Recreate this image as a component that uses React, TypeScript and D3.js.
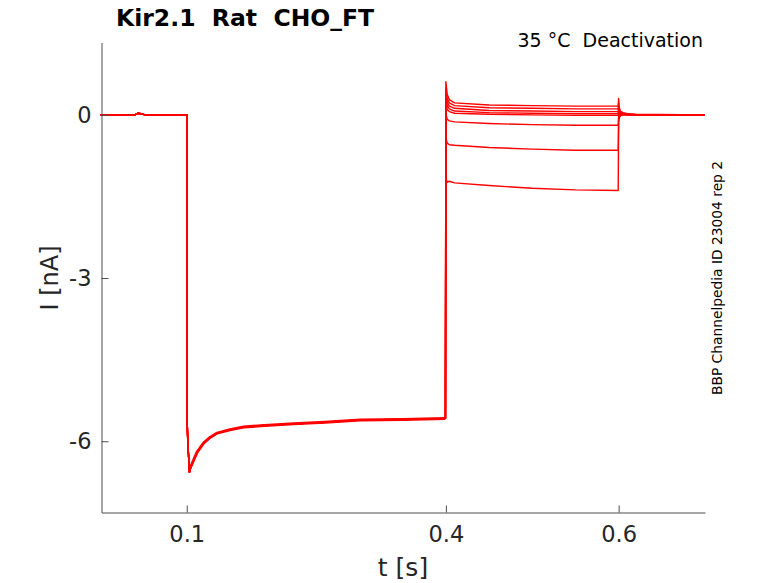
import React, { useEffect, useRef } from 'react';
import * as d3 from 'd3';

// holding segment and the step to -120 mV (identical for every sweep)
const holdTimes = [
  0, 0.04, 0.043, 0.047, 0.052, 0.1003, 0.1005, 0.1012, 0.1031, 0.105, 0.1081, 0.112, 0.1197, 0.127, 0.1352,
  0.15, 0.1659, 0.19, 0.2238, 0.26, 0.3009, 0.35, 0.3995,
];
const holdCurrent = [
  0, 0, 0.03, 0.02, 0, 0, -5.65, -6.0, -6.57, -6.46, -6.34, -6.2, -6.03, -5.93, -5.85,
  -5.79, -5.74, -5.71, -5.68, -5.65, -5.61, -5.6, -5.58,
];

// deactivation step, one row per sweep
const stepTimes = [0.4, 0.4015, 0.404, 0.41, 0.45, 0.5, 0.55, 0.5995];
const stepCurrents = [
  [0.61, 0.38, 0.28, 0.22, 0.18, 0.17, 0.16, 0.16],
  [0.48, 0.3, 0.22, 0.17, 0.13, 0.12, 0.11, 0.11],
  [0.4, 0.24, 0.16, 0.12, 0.08, 0.07, 0.06, 0.06],
  [0.32, 0.17, 0.11, 0.07, 0.04, 0.03, 0.02, 0.02],
  [0.24, 0.1, 0.06, 0.03, 0.01, 0.0, -0.01, -0.01],
  [0.02, -0.08, -0.11, -0.13, -0.16, -0.18, -0.19, -0.19],
  [-0.42, -0.52, -0.55, -0.56, -0.6, -0.63, -0.65, -0.65],
  [-1.15, -1.24, -1.22, -1.25, -1.3, -1.35, -1.38, -1.39],
];

// back to holding
const tailTimes = [0.6, 0.6006, 0.602, 0.605, 0.61, 0.62, 0.7];
const tailCurrents = [
  [0.3, 0.14, 0.07, 0.04, 0.02, 0.01, 0],
  [0.22, 0.1, 0.05, 0.03, 0.015, 0.005, 0],
  [0.16, 0.07, 0.04, 0.02, 0.01, 0, 0],
  [0.1, 0.05, 0.03, 0.015, 0.01, 0, 0],
  [0.06, 0.03, 0.02, 0.01, 0, 0, 0],
  [-0.02, 0, 0.01, 0.01, 0, 0, 0],
  [-0.08, -0.03, 0, 0.005, 0, 0, 0],
  [-0.15, -0.06, -0.02, 0, 0, 0, 0],
];

const xTicks = [0.1, 0.4, 0.6];
const yTicks = [-6, -3, 0];

const W = 778;
const H = 583;
const font = 'DejaVu Sans, sans-serif';
const axisColor = '#4d4d4d';
const textColor = '#262626';

const App = () => {
  const ref = useRef<SVGSVGElement>(null);

  useEffect(() => {
    const svg = d3.select(ref.current);
    svg.selectAll('*').remove();

    const x = d3.scaleLinear().domain([0.0013, 0.7]).range([101.5, 705]);
    const y = d3.scaleLinear().domain([-7.31, 1.33]).range([512.5, 42.5]);

    const line = d3
      .line<[number, number]>()
      .x(d => x(d[0]))
      .y(d => y(d[1]));

    const hold: [number, number][] = holdTimes.map((t, i) => [t, holdCurrent[i]]);

    const traces = svg.append('g').attr('fill', 'none').attr('stroke', '#ff0000').attr('stroke-linejoin', 'round');

    stepCurrents.forEach((row, k) => {
      const pts: [number, number][] = [
        ...hold,
        ...stepTimes.map((t, i) => [t, row[i]] as [number, number]),
        ...tailTimes.map((t, i) => [t, tailCurrents[k][i]] as [number, number]),
      ];
      traces.append('path').attr('d', line(pts)).attr('stroke-width', 1.4);
    });

    // overlapping sweeps make the shared part look thicker
    traces
      .append('path')
      .attr('d', line(hold.slice(9)))
      .attr('stroke-width', 3);

    // axes
    const xAxis = svg
      .append('g')
      .attr('transform', `translate(0,${y.range()[0]})`)
      .call(d3.axisBottom(x).tickValues(xTicks).tickSize(-7).tickSizeOuter(0).tickPadding(14).tickFormat(d3.format('.1f')));
    const yAxis = svg
      .append('g')
      .attr('transform', `translate(${x.range()[0]},0)`)
      .call(d3.axisLeft(y).tickValues(yTicks).tickSize(-7).tickSizeOuter(0).tickPadding(10).tickFormat(d => String(d)));

    [xAxis, yAxis].forEach(a => {
      a.select('.domain').attr('stroke', axisColor);
      a.selectAll('.tick line').attr('stroke', axisColor);
      a.selectAll('.tick text').attr('fill', textColor).style('font-family', font).style('font-size', '22.5px');
    });

    svg
      .append('text')
      .attr('x', 403)
      .attr('y', 576)
      .attr('text-anchor', 'middle')
      .attr('fill', textColor)
      .style('font-family', font)
      .style('font-size', '25px')
      .text('t [s]');

    svg
      .append('text')
      .attr('transform', 'translate(58,278) rotate(-90)')
      .attr('text-anchor', 'middle')
      .attr('fill', textColor)
      .style('font-family', font)
      .style('font-size', '24px')
      .text('I [nA]');

    svg
      .append('text')
      .attr('x', 116)
      .attr('y', 26)
      .attr('fill', '#000')
      .style('font-family', font)
      .style('font-size', '23.5px')
      .style('font-weight', 'bold')
      .style('white-space', 'pre')
      .text('Kir2.1  Rat  CHO_FT');

    svg
      .append('text')
      .attr('x', 703)
      .attr('y', 47)
      .attr('text-anchor', 'end')
      .attr('fill', '#000')
      .style('font-family', font)
      .style('font-size', '19px')
      .style('white-space', 'pre')
      .text('35 °C  Deactivation');

    svg
      .append('text')
      .attr('transform', 'translate(722,278) rotate(-90)')
      .attr('text-anchor', 'middle')
      .attr('fill', '#000')
      .style('font-family', font)
      .style('font-size', '13.8px')
      .text('BBP Channelpedia ID 23004 rep 2');
  }, []);

  return (
    <svg
      ref={ref}
      width={W}
      height={H}
      style={{ position: 'absolute', left: 0, top: 0, background: '#fff' }}
    ></svg>
  );
};

export default App;
